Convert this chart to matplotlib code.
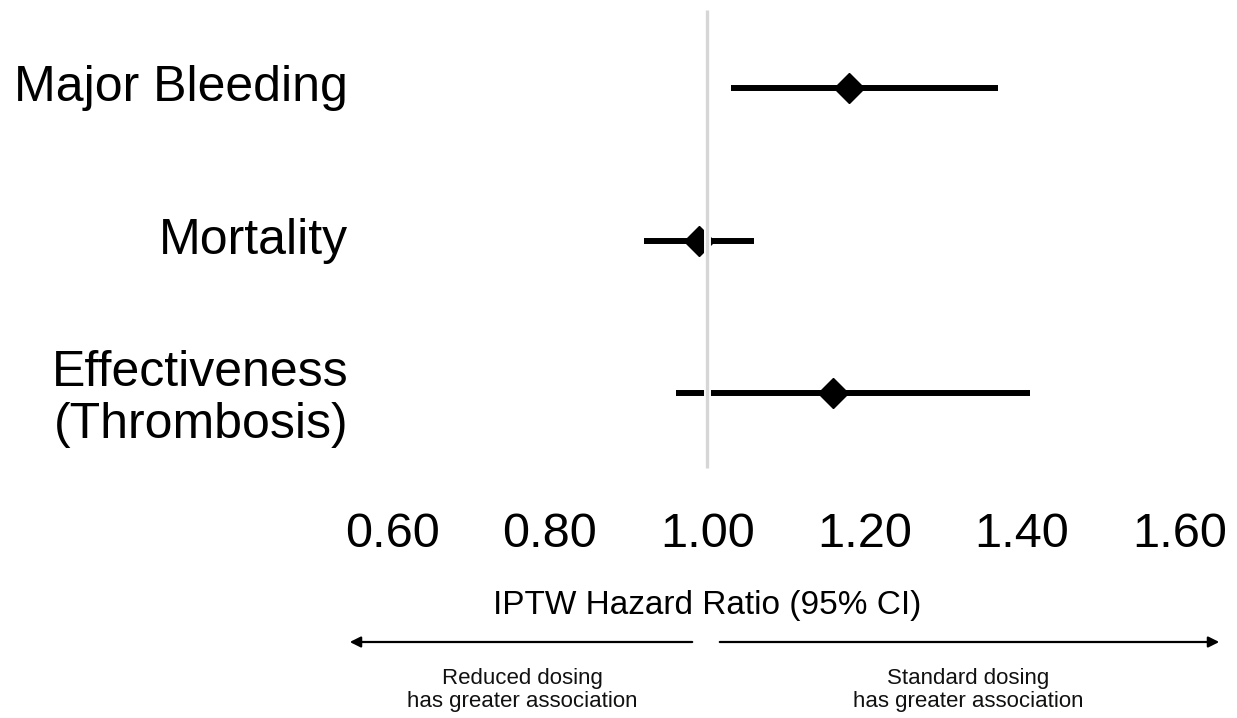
import matplotlib
matplotlib.use("Agg")
import matplotlib.pyplot as plt
import matplotlib.patheffects as pe

plt.rcParams['font.family'] = ['Liberation Sans', 'DejaVu Sans']

# data
outcomes = ['Major Bleeding', 'Mortality', 'Effectiveness\n(Thrombosis)']
hr = [1.18, 0.99, 1.16]
ci_low = [1.03, 0.92, 0.96]
ci_high = [1.37, 1.06, 1.41]
xticks = [0.60, 0.80, 1.00, 1.20, 1.40, 1.60]
xtick_labels = ['0.60', '0.80', '1.00', '1.20', '1.40', '1.60']

W, H = 1237, 718
fig = plt.figure(figsize=(W / 100, H / 100), dpi=100)
# axes placed in pixel terms: left 356, right 1237, top 0, bottom 480
ax = fig.add_axes([356 / W, 1 - 480 / H, (W - 356) / W, 480 / H])
ax.set_xlim(0.554, 1.673)
ax.set_ylim(2.57, -0.577)

for i in range(len(outcomes)):
    ax.plot([ci_low[i], ci_high[i]], [i, i], color='black', lw=4.3,
            solid_capstyle='butt', zorder=2)
    ax.plot(hr[i], i, marker='D', color='black', ms=15, zorder=3)

ax.plot([1, 1], [-0.51, 2.49], color='#d6d6d6', lw=2.4, zorder=4,
        solid_capstyle='butt',
        path_effects=[pe.Stroke(linewidth=5, foreground='white'), pe.Normal()])

for i, name in enumerate(outcomes):
    ax.text(-0.009, i + (0.04 if '\n' in name else 0), name,
            transform=ax.get_yaxis_transform(),
            ha='right', va='center', fontsize=36, linespacing=1.16)

ax.set_xticks(xticks)
ax.set_xticklabels(xtick_labels, fontsize=35)
ax.tick_params(axis='x', length=0, pad=23)
ax.set_yticks([])
for s in ax.spines.values():
    s.set_visible(False)

fig.text(707 / W, 1 - 614 / H, 'IPTW Hazard Ratio (95% CI)', ha='center',
         va='baseline', fontsize=24)

ay = 1 - 642 / H
fig.add_artist(matplotlib.patches.FancyArrowPatch(
    (695 / W, ay), (347 / W, ay), transform=fig.transFigure,
    arrowstyle='-|>', mutation_scale=16, lw=1.6, color='black'))
fig.add_artist(matplotlib.patches.FancyArrowPatch(
    (717 / W, ay), (1222 / W, ay), transform=fig.transFigure,
    arrowstyle='-|>', mutation_scale=16, lw=1.6, color='black'))

fig.text(522 / W, 1 - 690 / H, 'Reduced dosing\nhas greater association',
         ha='center', va='center', fontsize=16, linespacing=1.15, color='#111111')
fig.text(968 / W, 1 - 690 / H, 'Standard dosing\nhas greater association',
         ha='center', va='center', fontsize=16, linespacing=1.15, color='#111111')

fig.savefig('out.png', dpi=100, facecolor='white')
